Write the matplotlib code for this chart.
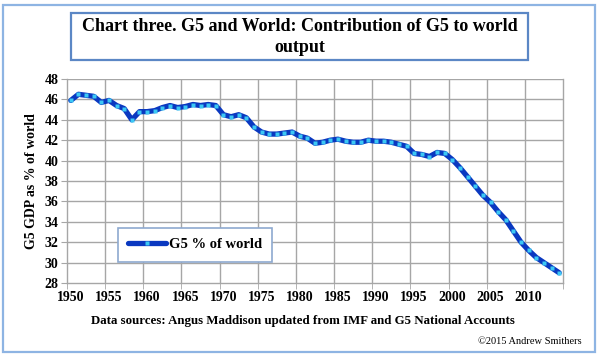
import matplotlib
matplotlib.use("Agg")
import matplotlib.pyplot as plt
import matplotlib.patches as patches
import numpy as np

plt.rcParams['font.family'] = ['Liberation Serif', 'DejaVu Serif']

# Dados
anos = list(range(1950, 2015))
g5_pct_mundo = [
    45.9, 46.5, 46.4, 46.3, 45.7, 45.9, 45.4, 45.1, 44.0, 44.8,
    44.8, 44.9, 45.2, 45.4, 45.2, 45.3, 45.5, 45.4, 45.5, 45.4,
    44.5, 44.3, 44.5, 44.2, 43.3, 42.8, 42.6, 42.6, 42.7, 42.8,
    42.4, 42.2, 41.7, 41.8, 42.0, 42.1, 41.9, 41.8, 41.8, 42.0,
    41.9, 41.9, 41.8, 41.6, 41.4, 40.7, 40.6, 40.4, 40.8, 40.7,
    40.1, 39.3, 38.4, 37.5, 36.6, 35.9, 35.0, 34.2, 33.1, 32.0,
    31.2, 30.5, 30.0, 29.5, 29.0,
]
rotulos_x = [str(a) for a in range(1950, 2015, 5)]
titulo = "Chart three. G5 and World: Contribution of G5 to world\noutput"
legenda = "G5 % of world"

fig = plt.figure(figsize=(6, 3.6), dpi=100)
ax = fig.add_axes([67 / 600, 1 - 283 / 360, (563 - 67) / 600, (283 - 79) / 360])

# Molduras externas
fig.patches.append(patches.Rectangle((3 / 600, 1 - 352 / 360), 592 / 600, 347 / 360,
                                     transform=fig.transFigure, fill=False,
                                     edgecolor='#8eb4e3', lw=1.6))
fig.patches.append(patches.Rectangle((71 / 600, 1 - 60 / 360), 457 / 600, 47 / 360,
                                     transform=fig.transFigure, fill=False,
                                     edgecolor='#5b87c5', lw=1.6))

ax.plot(anos, g5_pct_mundo, color='#0a38c0', lw=3.8, solid_capstyle='round',
        marker='s', markersize=3.0, markerfacecolor='#3cc8f4',
        markeredgecolor='none', label=legenda, zorder=3)

ax.set_xlim(1949.5, 2014.5)
ax.set_ylim(28, 48)
ax.set_yticks(np.arange(28, 49, 2))
ax.set_xticks([int(r) for r in rotulos_x])
ax.set_xticklabels(rotulos_x, fontweight='bold')
ax.set_xticks(np.arange(1949.5, 2015, 5), minor=True)
for t in ax.get_yticklabels():
    t.set_fontweight('bold')

ax.grid(False)
for y in np.arange(30, 48.1, 2):
    ax.axhline(y, color='#a6a6a6', lw=1, zorder=1)
for x in np.arange(1954.5, 2014, 5):
    ax.axvline(x, color='#a6a6a6', lw=1, zorder=1)

ax.spines['top'].set_visible(False)
for s in ['left', 'bottom', 'right']:
    ax.spines[s].set_color('#a6a6a6')
    ax.spines[s].set_linewidth(1)

ax.tick_params(axis='x', which='major', length=0, labelsize=10, pad=6)
ax.tick_params(axis='x', which='minor', length=4, color='#a6a6a6', direction='out')
ax.tick_params(axis='y', length=4, color='#a6a6a6', labelsize=10, pad=2)

ax.set_ylabel("G5 GDP as % of world", fontsize=10, fontweight='bold', labelpad=5)

fig.text(0.5, 1 - 37 / 360, titulo, ha='center', va='center',
         fontsize=13, fontweight='bold', linespacing=1.3)
fig.text(303 / 600, 1 - 321 / 360,
         "Data sources: Angus Maddison updated from IMF and G5 National Accounts",
         ha='center', va='center', fontsize=9.3, fontweight='bold')
fig.text(582 / 600, 1 - 342 / 360, "\u00a92015 Andrew Smithers",
         ha='right', va='center', fontsize=7.5)

leg = ax.legend(loc='upper left', bbox_to_anchor=((118 - 67) / 496, (283 - 228) / 204),
                frameon=True, fancybox=False, handlelength=2.6,
                prop={'size': 10.5, 'weight': 'bold'},
                borderpad=0.7, handletextpad=0.2, borderaxespad=0)
leg.get_frame().set_edgecolor('#8ea9d0')
leg.get_frame().set_linewidth(1.2)
leg.get_frame().set_alpha(1)

fig.savefig("out.png", dpi=100)
